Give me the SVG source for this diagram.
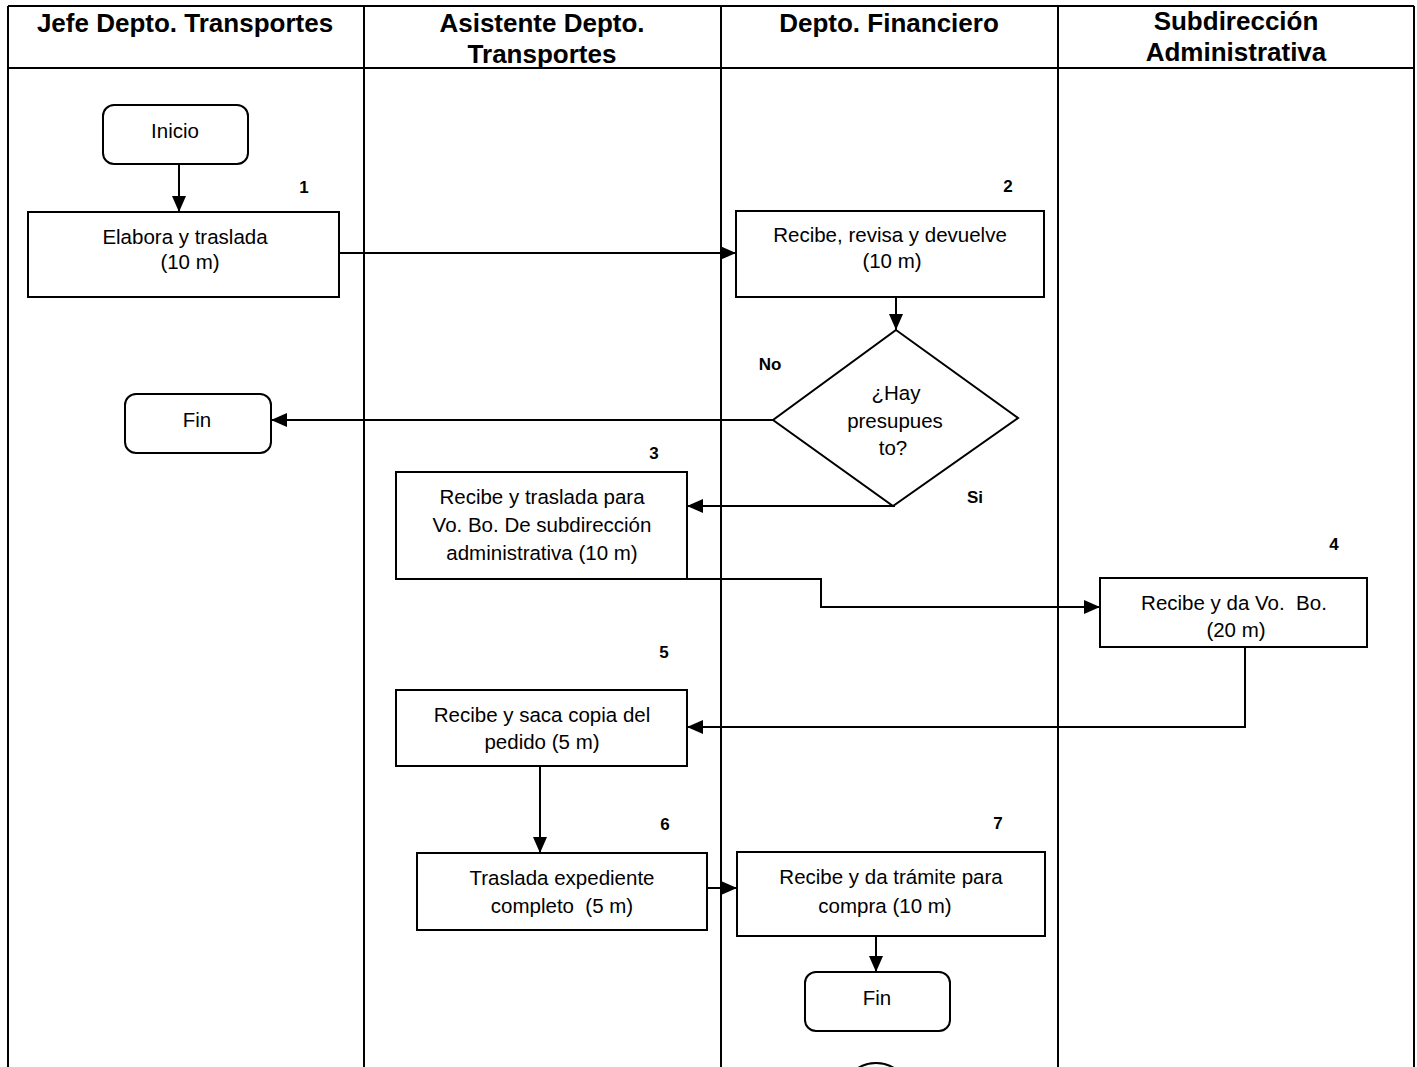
<svg xmlns="http://www.w3.org/2000/svg" width="1417" height="1067" viewBox="0 0 1417 1067">
  <style>
    .lane { stroke: #000; stroke-width: 2; fill: none; }
    .hdr { font-family: "Liberation Sans", Arial, sans-serif; font-weight: bold; font-size: 26px; fill: #000; text-anchor: middle; }
    .box { fill: #fff; stroke: #000; stroke-width: 2; }
    .txt { font-family: "Liberation Sans", Arial, sans-serif; font-size: 20.5px; fill: #000; text-anchor: middle; white-space: pre; }
    .num { font-family: "Liberation Sans", Arial, sans-serif; font-weight: bold; font-size: 17px; fill: #000; text-anchor: middle; }
    .lbl { font-family: "Liberation Sans", Arial, sans-serif; font-weight: bold; font-size: 17px; fill: #000; text-anchor: middle; }
    .flow { stroke: #000; stroke-width: 2; fill: none; }
  </style>
  <defs>
    <marker id="arrow" viewBox="0 0 16 14" refX="16" refY="7" markerWidth="16" markerHeight="14" markerUnits="userSpaceOnUse" orient="auto">
      <path d="M0,0 L16,7 L0,14 Z" fill="#000"/>
    </marker>
  </defs>

  <rect width="1417" height="1067" fill="#fff"/>

  <!-- swimlane frame -->
  <g id="lanes">
    <line class="lane" x1="8" y1="6" x2="1414" y2="6"/>
    <line class="lane" x1="8" y1="68" x2="1414" y2="68"/>
    <line class="lane" x1="8" y1="6" x2="8" y2="1067"/>
    <line class="lane" x1="364" y1="6" x2="364" y2="1067"/>
    <line class="lane" x1="721" y1="6" x2="721" y2="1067"/>
    <line class="lane" x1="1058" y1="6" x2="1058" y2="1067"/>
    <line class="lane" x1="1414" y1="6" x2="1414" y2="1067"/>
    <text class="hdr" x="185" y="32">Jefe Depto. Transportes</text>
    <text class="hdr" x="542" y="32">Asistente Depto.</text>
    <text class="hdr" x="542" y="63">Transportes</text>
    <text class="hdr" x="889" y="32">Depto. Financiero</text>
    <text class="hdr" x="1236" y="30">Subdirección</text>
    <text class="hdr" x="1236" y="61">Administrativa</text>
  </g>

  <!-- connectors -->
  <g id="connectors">
    <line class="flow" x1="179" y1="164" x2="179" y2="212" marker-end="url(#arrow)"/>
    <line class="flow" x1="339" y1="253" x2="736" y2="253" marker-end="url(#arrow)"/>
    <line class="flow" x1="896" y1="297" x2="896" y2="330" marker-end="url(#arrow)"/>
    <line class="flow" x1="773" y1="420" x2="271" y2="420" marker-end="url(#arrow)"/>
    <polyline class="flow" points="895,506 687,506" marker-end="url(#arrow)"/>
    <polyline class="flow" points="687,579 821,579 821,607 1100,607" marker-end="url(#arrow)"/>
    <polyline class="flow" points="1245,647 1245,727 687,727" marker-end="url(#arrow)"/>
    <line class="flow" x1="540" y1="766" x2="540" y2="853" marker-end="url(#arrow)"/>
    <line class="flow" x1="707" y1="888" x2="737" y2="888" marker-end="url(#arrow)"/>
    <line class="flow" x1="876" y1="936" x2="876" y2="972" marker-end="url(#arrow)"/>
    <text class="lbl" x="770" y="370">No</text>
    <text class="lbl" x="975" y="503">Si</text>
  </g>

  <g id="inicio">
    <rect class="box" x="103" y="105" width="145" height="59" rx="11"/>
    <text class="txt" x="175" y="138">Inicio</text>
  </g>

  <g id="paso1">
    <rect class="box" x="28" y="212" width="311" height="85"/>
    <text class="txt" x="185" y="244">Elabora y traslada</text>
    <text class="txt" x="190" y="269">(10 m)</text>
    <text class="num" x="304" y="193">1</text>
  </g>

  <g id="paso2">
    <rect class="box" x="736" y="211" width="308" height="86"/>
    <text class="txt" x="890" y="242">Recibe, revisa y devuelve</text>
    <text class="txt" x="892" y="268">(10 m)</text>
    <text class="num" x="1008" y="192">2</text>
  </g>

  <g id="decision">
    <polygon class="box" points="896,330 1018,418 893,506 773,420"/>
    <text class="txt" x="896" y="400">¿Hay</text>
    <text class="txt" x="895" y="428">presupues</text>
    <text class="txt" x="893" y="455">to?</text>
  </g>

  <g id="fin1">
    <rect class="box" x="125" y="394" width="146" height="59" rx="11"/>
    <text class="txt" x="197" y="427">Fin</text>
  </g>

  <g id="paso3">
    <rect class="box" x="396" y="472" width="291" height="107"/>
    <text class="txt" x="542" y="504">Recibe y traslada para</text>
    <text class="txt" x="542" y="532">Vo. Bo. De subdirección</text>
    <text class="txt" x="542" y="560">administrativa (10 m)</text>
    <text class="num" x="654" y="459">3</text>
  </g>

  <g id="paso4">
    <rect class="box" x="1100" y="578" width="267" height="69"/>
    <text class="txt" x="1234" y="610" xml:space="preserve">Recibe y da Vo.  Bo.</text>
    <text class="txt" x="1236" y="637">(20 m)</text>
    <text class="num" x="1334" y="550">4</text>
  </g>

  <g id="paso5">
    <rect class="box" x="396" y="690" width="291" height="76"/>
    <text class="txt" x="542" y="722">Recibe y saca copia del</text>
    <text class="txt" x="542" y="749">pedido (5 m)</text>
    <text class="num" x="664" y="658">5</text>
  </g>

  <g id="paso6">
    <rect class="box" x="417" y="853" width="290" height="77"/>
    <text class="txt" x="562" y="885">Traslada expediente</text>
    <text class="txt" x="562" y="913" xml:space="preserve">completo  (5 m)</text>
    <text class="num" x="665" y="830">6</text>
  </g>

  <g id="paso7">
    <rect class="box" x="737" y="852" width="308" height="84"/>
    <text class="txt" x="891" y="884">Recibe y da trámite para</text>
    <text class="txt" x="885" y="913">compra (10 m)</text>
    <text class="num" x="998" y="829">7</text>
  </g>

  <g id="fin2">
    <rect class="box" x="805" y="972" width="145" height="59" rx="11"/>
    <text class="txt" x="877" y="1005">Fin</text>
  </g>

  <!-- off-page connector, cut by the bottom edge -->
  <g id="conector">
    <circle class="box" cx="876" cy="1097" r="34" stroke-width="3"/>
  </g>
</svg>
